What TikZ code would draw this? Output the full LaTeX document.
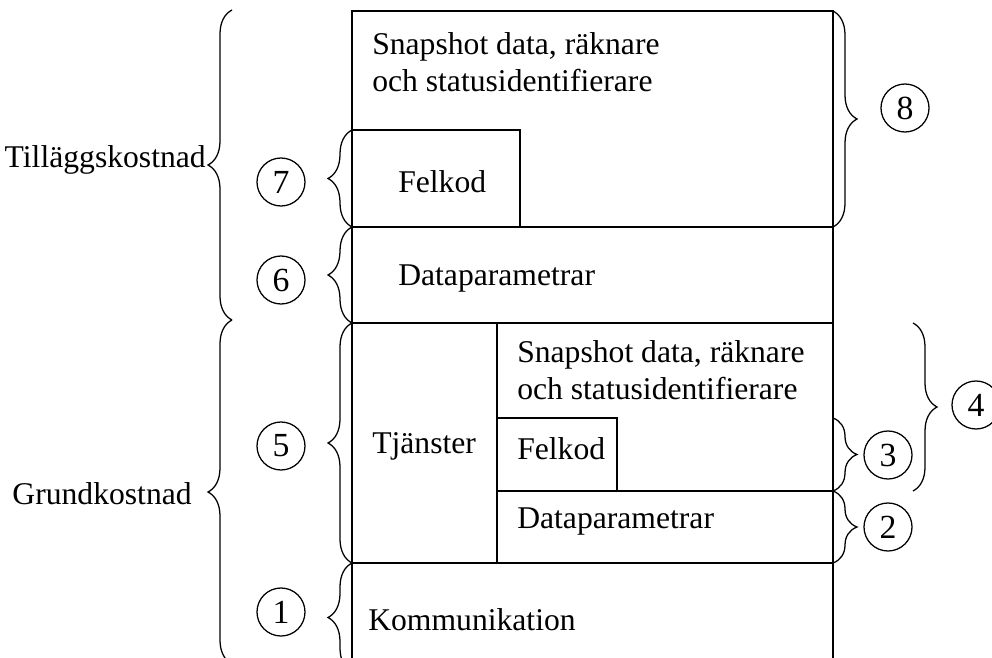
\documentclass[tikz,border=0pt]{standalone}
\usepackage{fontspec}
\setmainfont{Liberation Serif}
\usetikzlibrary{decorations.pathreplacing,positioning}

\begin{document}
\begin{tikzpicture}[x=0.025cm,y=-0.025cm,
        box/.style={line width=1.2pt},
        brc/.style={decorate,decoration={brace,amplitude=0.6cm},line width=0.9pt},
        num/.style={circle,draw,line width=0.9pt,minimum size=1.2cm,inner sep=0pt,font=\fontsize{24}{27}\selectfont},
        lbl/.style={anchor=west,inner sep=0pt,font=\fontsize{22.5}{26.5}\selectfont,align=left}]
    \useasboundingbox (0,0) rectangle (992,657);
    % outer frame
    \coordinate (m_nw) at (352,11);
    \coordinate (m_ne) at (833,11);
    \coordinate (m_sw) at (352,672);
    \coordinate (m_se) at (833,672);
    \coordinate (f_nw) at (352,130);
    \coordinate (f_ne) at (520,130);
    \coordinate (d_nw) at (352,227);
    \coordinate (d_ne) at (833,227);
    \coordinate (s_nw) at (352,323);
    \coordinate (s_ne) at (833,323);
    \coordinate (k_nw) at (352,563);
    \coordinate (k_ne) at (833,563);
    \coordinate (t_n) at (497,323);
    \coordinate (t_s) at (497,563);
    \coordinate (ff_nw) at (497,418);
    \coordinate (ff_ne) at (617,418);
    \coordinate (ff_se) at (617,491);
    \coordinate (ff_sw) at (497,491);
    \coordinate (fr_e) at (833,418);
    \coordinate (dd_e) at (833,491);
    \coordinate (g_top) at (232,10);
    \coordinate (g_mid) at (232,320);
    \coordinate (g_bot) at (232,664);
    \coordinate (b4_n) at (913,323);
    \coordinate (b4_s) at (913,491);

    \draw[box] (m_sw) -- (m_nw) -- (m_ne) -- (m_se);
    \draw[box] (f_nw) -- (f_ne) |- (d_nw);
    \draw[box] (d_nw) -- (d_ne);
    \draw[box] (s_nw) -- (s_ne);
    \draw[box] (k_nw) -- (k_ne);
    \draw[box] (t_n) -- (t_s);
    \draw[box] (ff_sw) -- (dd_e);
    \draw[box] (ff_nw) -- (ff_ne) -- (ff_se);

    \node[lbl] (snap_a) at (372,62) {Snapshot data, räknare\\och statusidentifierare};
    \node[lbl] (fel_a) at (398,182) {Felkod};
    \node[lbl] (dat_a) at (398,279) {Dataparametrar};
    \node[lbl] (tj) at (372,446) {Tjänster};
    \node[lbl] (snap_b) at (517,370) {Snapshot data, räknare\\och statusidentifierare};
    \node[lbl] (fel_b) at (517,449) {Felkod};
    \node[lbl] (dat_b) at (517,522) {Dataparametrar};
    \node[lbl] (kom) at (368,620) {Kommunikation};
    \node[lbl,anchor=east] (tillagg) at (206,160) {Tilläggskostnad};
    \node[lbl,anchor=east] (grund) at (192,494) {Grundkostnad};

    \node[num] (c_7) at (281,182) {7};
    \node[num] (c_6) at (281,280) {6};
    \node[num] (c_5) at (281,446) {5};
    \node[num] (c_1) at (281,612) {1};
    \node[num] (c_8) at (905,108) {8};
    \node[num] (c_3) at (888,455) {3};
    \node[num] (c_2) at (888,527) {2};
    \node[num] (c_4) at (976,405) {4};

    \draw[brc] (g_mid) -- (g_top);
    \draw[brc] (g_bot) -- (g_mid);
    \draw[brc] (d_nw) -- (f_nw);
    \draw[brc] (s_nw) -- (d_nw);
    \draw[brc] (k_nw) -- (s_nw);
    \draw[brc] (m_sw) -- (k_nw);
    \draw[brc] (m_ne) -- (d_ne);
    \draw[brc] (fr_e) -- (dd_e);
    \draw[brc] (dd_e) -- (k_ne);
    \draw[brc] (b4_n) -- (b4_s);
\end{tikzpicture}
\end{document}
